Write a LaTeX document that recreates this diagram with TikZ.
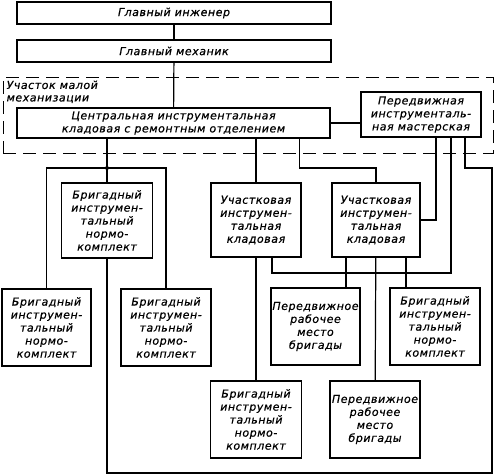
\documentclass[tikz,border=0pt]{standalone}
\usepackage{fontspec}
\setmainfont{DejaVu Sans}[LetterSpace=5, FakeBold=0.6]
\begin{document}
\begin{tikzpicture}[x=1pt,y=-1pt,line width=1.2pt,
  box/.style={draw, align=center, inner sep=0.5pt, font=\itshape\fontsize{11}{13}\selectfont},
  zone/.style={draw, dashed, dash pattern=on 13pt off 7pt, line width=1pt}]
\useasboundingbox (0,0) rectangle (496,475);
\node[zone, minimum width=490pt, minimum height=76pt] (area) at (248,115) {};
\node[anchor=north west, align=left, inner sep=0pt, font=\itshape\fontsize{11}{12.5}\selectfont] (arealabel) at (6,80) {Участок малой\\механизации};
\node[box, minimum width=314pt, minimum height=22pt] (eng) at (174,13) {Главный инженер};
\node[box, minimum width=314pt, minimum height=22pt] (mech) at (174,51) {Главный механик};
\node[box, minimum width=313pt, minimum height=30pt] (central) at (173.5,123) {Центральная инструментальная\\кладовая с ремонтным отделением};
\node[box, minimum width=120pt, minimum height=45pt] (mobile) at (421,114.5) {Передвижная\\инструменталь-\\ная мастерская};
\node[box, minimum width=91pt, minimum height=75pt] (brig0) at (107,220.5) {Бригадный\\инструмен-\\тальный\\нормо-\\комплект};
\node[box, minimum width=89pt, minimum height=77pt] (brigL) at (46.5,327.5) {Бригадный\\инструмен-\\тальный\\нормо-\\комплект};
\node[box, minimum width=90pt, minimum height=77pt] (brigM) at (166,327.5) {Бригадный\\инструмен-\\тальный\\нормо-\\комплект};
\node[box, minimum width=90pt, minimum height=74pt] (store1) at (256,220) {Участковая\\инструмен-\\тальная\\кладовая};
\node[box, minimum width=88pt, minimum height=74pt] (store2) at (376,220) {Участковая\\инструмен-\\тальная\\кладовая};
\node[box, minimum width=89pt, minimum height=77pt] (mob1) at (315.5,326.5) {Передвижное\\рабочее\\место\\бригады};
\node[box, minimum width=90pt, minimum height=77pt] (brigR) at (435,326.5) {Бригадный\\инструмен-\\тальный\\нормо-\\комплект};
\node[box, minimum width=91pt, minimum height=77pt] (brigB) at (256,419.5) {Бригадный\\инструмен-\\тальный\\нормо-\\комплект};
\node[box, minimum width=90pt, minimum height=77pt] (mob2) at (375,419.5) {Передвижное\\рабочее\\место\\бригады};
\coordinate (j1) at (107,168);
\coordinate (bus) at (0,273);
\coordinate (loop) at (492,473);
% links
\draw (eng) -- (mech);
\draw (mech) -- (central);
\draw (central.east) -- (central.east -| mobile.west);
\draw (central.south -| brig0) -- (brig0);
\fill (j1) circle (2pt);
\draw (brigL) |- (brigM.north |- j1) -- (brigM);
\draw (central.south -| store1) -- (store1);
\draw ([xshift=-2pt]central.south -| store1.east) |- (store2.north |- j1) -- (store2);
\draw ([xshift=15pt]mobile.south) |- (store2.east);
\draw ([xshift=30pt]mobile.south) |- ([xshift=16pt]store1.south |- bus) -- ([xshift=16pt]store1.south);
\draw (store1) -- (brigB);
\draw ([xshift=-30pt]store2.south) -- ([xshift=-30pt]store2.south |- mob1.north);
\draw ([xshift=30pt]store2.south) -- ([xshift=30pt]store2.south |- brigR.north);
\draw (store2) -- (mob2);
\draw (brig0) |- (loop) |- ([xshift=44pt]mobile.south |- j1) -- ([xshift=44pt]mobile.south);
\end{tikzpicture}
\end{document}
